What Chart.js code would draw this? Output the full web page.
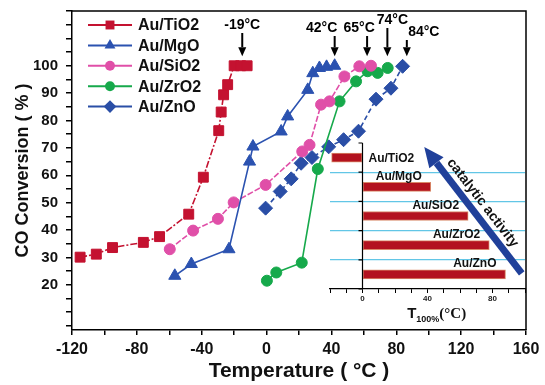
<!DOCTYPE html>
<html>
<head>
<meta charset="utf-8">
<script src="https://cdn.jsdelivr.net/npm/chart.js@4.4.1/dist/chart.umd.min.js"></script>
<style>
  html, body { margin: 0; padding: 0; background: #fff; }
  #wrap { position: relative; width: 545px; height: 385px; }
  #wrap canvas { position: absolute; left: 0; top: 0; }
</style>
</head>
<body>
<div id="wrap">
  <canvas id="mainChart" width="545" height="385"></canvas>
  <canvas id="insetChart" width="545" height="385"></canvas>
</div>
<script>
// CO conversion (%) against temperature (degC), one pair of arrays per catalyst
const tiO2Temp = [-115, -105, -95, -76, -66, -48, -39, -29.5, -28, -26.5, -24, -20, -16, -12];
const tiO2Conv = [30.1, 31.2, 33.6, 35.5, 37.6, 45.8, 59.3, 76.3, 83.1, 89.4, 93.1, 100, 100, 100];

const mgoTemp = [-56.6, -46.4, -23.2, -10.5, -8.4, 9, 13, 25.4, 28.5, 32.6, 37, 42];
const mgoConv = [23.3, 27.6, 33, 65, 70.5, 76, 81.5, 91.2, 97.3, 99.2, 99.6, 100];

const sio2Temp = [-59.7, -45.3, -30, -20.3, -0.6, 22, 26.5, 33.6, 38.8, 48, 57.2, 64.4];
const sio2Conv = [33, 39.8, 44.1, 50.1, 56.5, 68.7, 71.1, 85.8, 87, 96.1, 99.8, 100];

const zro2Temp = [0.2, 6, 21.7, 31.6, 45, 55.2, 62.3, 68.5, 74.7];
const zro2Conv = [21.5, 24.5, 28.1, 62.3, 87, 94.3, 98, 97.4, 99.2];

const znoTemp = [-0.6, 8.4, 15.2, 21.3, 28, 38.3, 47.5, 56.7, 67.5, 76.7, 83.9];
const znoConv = [48, 54.1, 58.7, 64.4, 66.5, 70.4, 73, 76.1, 87.8, 91.8, 99.8];

// T100% labels and where their arrows point
const arrowLabels = ["-19°C", "42°C", "65°C", "74°C", "84°C"];
const arrowTemps = [-15, 42, 62, 74.5, 86.5];

// inset: temperature of full conversion
const insetCats = ["Au/TiO2", "Au/MgO", "Au/SiO2", "Au/ZrO2", "Au/ZnO"];
const insetT100 = [-19, 42, 65, 78, 88];

const FONT = '"Liberation Sans", Arial, sans-serif';

const styles = [
  { label: "Au/TiO2", color: "#c41230", shape: "rect", r: 7, dash: [7, 2, 2, 2] },
  { label: "Au/MgO", color: "#2b52b0", shape: "triangle", r: 7, dash: [] },
  { label: "Au/SiO2", color: "#e04fa8", shape: "circle", r: 5.5, dash: [6, 2] },
  { label: "Au/ZrO2", color: "#16a94b", shape: "circle", r: 5.5, dash: [] },
  { label: "Au/ZnO", color: "#2a4ea6", shape: "rectRot", r: 7, dash: [5, 3] },
];
const temps = [tiO2Temp, mgoTemp, sio2Temp, zro2Temp, znoTemp];
const convs = [tiO2Conv, mgoConv, sio2Conv, zro2Conv, znoConv];

const datasets = styles.map((s, i) => ({
  label: s.label,
  data: temps[i].map((t, k) => ({ x: t, y: convs[i][k] })),
  showLine: true,
  borderColor: s.color,
  backgroundColor: s.color,
  borderWidth: 1.6,
  borderDash: s.dash,
  pointStyle: s.shape,
  pointRadius: s.r,
  pointBackgroundColor: s.color,
  pointBorderColor: s.color,
  pointBorderWidth: 1,
}));

function drawMarker(ctx, shape, x, y, r) {
  ctx.beginPath();
  if (shape === "rect") {
    const h = r * Math.SQRT1_2;
    ctx.rect(x - h, y - h, 2 * h, 2 * h);
  } else if (shape === "triangle") {
    for (let k = 0; k < 3; k++) {
      const a = k * 2 * Math.PI / 3;
      const px = x + Math.sin(a) * r, py = y - Math.cos(a) * r;
      if (k === 0) ctx.moveTo(px, py); else ctx.lineTo(px, py);
    }
    ctx.closePath();
  } else if (shape === "rectRot") {
    ctx.moveTo(x - r, y); ctx.lineTo(x, y - r); ctx.lineTo(x + r, y); ctx.lineTo(x, y + r);
    ctx.closePath();
  } else {
    ctx.arc(x, y, r, 0, Math.PI * 2);
  }
  ctx.fill();
}

function drawArrow(ctx, x1, y1, x2, y2, width, headLen, headW) {
  const a = Math.atan2(y2 - y1, x2 - x1);
  const bx = x2 - Math.cos(a) * headLen, by = y2 - Math.sin(a) * headLen;
  ctx.lineWidth = width;
  ctx.beginPath();
  ctx.moveTo(x1, y1);
  ctx.lineTo(bx, by);
  ctx.stroke();
  ctx.beginPath();
  ctx.moveTo(x2, y2);
  ctx.lineTo(bx + Math.sin(a) * headW / 2, by - Math.cos(a) * headW / 2);
  ctx.lineTo(bx - Math.sin(a) * headW / 2, by + Math.cos(a) * headW / 2);
  ctx.closePath();
  ctx.fill();
}

// box round the plot
const framePlugin = {
  id: "frame",
  beforeDatasetsDraw(chart) {
    const { ctx, chartArea: a } = chart;
    ctx.save();
    ctx.strokeStyle = "#000";
    ctx.lineWidth = 1.5;
    ctx.beginPath();
    ctx.moveTo(a.left, a.top);
    ctx.lineTo(a.right, a.top);
    ctx.lineTo(a.right, a.bottom);
    ctx.stroke();
    ctx.restore();
  },
};

const legendPlugin = {
  id: "customLegend",
  afterDraw(chart) {
    const ctx = chart.ctx;
    ctx.save();
    styles.forEach((s, i) => {
      const y = 25 + i * 20.4;
      ctx.strokeStyle = s.color;
      ctx.fillStyle = s.color;
      ctx.lineWidth = 2;
      ctx.beginPath();
      ctx.moveTo(88, y);
      ctx.lineTo(132, y);
      ctx.stroke();
      drawMarker(ctx, s.shape, 110, y, s.r * 0.9);
      ctx.fillStyle = "#111";
      ctx.font = "bold 16px " + FONT;
      ctx.textBaseline = "middle";
      ctx.fillText(s.label, 138, y + 1);
    });
    ctx.restore();
  },
};

const labelY = [25, 28, 28, 20, 32];
const labelDx = [0, -13, -8, 5, 17];
const tempArrowPlugin = {
  id: "tempArrows",
  afterDatasetsDraw(chart) {
    const { ctx, scales: { x, y } } = chart;
    ctx.save();
    ctx.fillStyle = "#000";
    ctx.strokeStyle = "#000";
    arrowTemps.forEach((t, i) => {
      const px = x.getPixelForValue(t);
      const tip = y.getPixelForValue(103.5);
      drawArrow(ctx, px, labelY[i] + 8, px, tip, 2, 9, 8);
      ctx.font = "bold 14px " + FONT;
      ctx.textAlign = "center";
      ctx.textBaseline = "middle";
      ctx.fillText(arrowLabels[i], px + labelDx[i], labelY[i]);
    });
    ctx.restore();
  },
};

new Chart(document.getElementById("mainChart"), {
  type: "scatter",
  data: { datasets },
  plugins: [framePlugin, tempArrowPlugin, legendPlugin],
  options: {
    responsive: false,
    animation: false,
    layout: { padding: { top: 11, right: 19, left: 0, bottom: 0 } },
    plugins: { legend: { display: false }, tooltip: { enabled: false } },
    scales: {
      x: {
        type: "linear",
        min: -120,
        max: 160,
        ticks: {
          stepSize: 20,
          autoSkip: false,
          maxRotation: 0,
          padding: 5,
          color: "#111",
          font: { family: FONT, size: 16, weight: "bold" },
          callback: (v) => (v % 40 === 0 ? v : ""),
        },
        grid: { drawOnChartArea: false, tickLength: 5, color: "#000", lineWidth: 1.5 },
        border: { color: "#000", width: 1.5 },
        title: {
          display: true,
          text: "Temperature ( °C )",
          color: "#111",
          font: { family: FONT, size: 21, weight: "bold" },
          padding: { top: 0, bottom: 1 },
        },
        afterFit: (s) => { s.height = 55; },
      },
      y: {
        type: "linear",
        min: 3.5,
        max: 120,
        afterBuildTicks: (s) => {
          const t = [];
          for (let v = 5; v <= 120; v += 5) t.push({ value: v });
          s.ticks = t;
        },
        ticks: {
          autoSkip: false,
          padding: 8,
          color: "#111",
          font: { family: FONT, size: 15, weight: "bold" },
          callback: (v) => (v >= 20 && v <= 100 && v % 10 === 0 ? v : ""),
        },
        grid: { drawOnChartArea: false, tickLength: 6, color: "#000", lineWidth: 1.5 },
        border: { color: "#000", width: 1.5 },
        title: {
          display: true,
          text: "CO Conversion ( % )",
          color: "#111",
          font: { family: FONT, size: 18, weight: "bold" },
          padding: { top: 12, bottom: 0 },
        },
        afterFit: (s) => {
          s.width = 72;
          s.paddingTop = 0;
          s.paddingBottom = 0;
        },
      },
    },
  },
});

// ---- inset ----
const insetDecor = {
  id: "insetDecor",
  afterDatasetsDraw(chart) {
    const { ctx, chartArea: a, scales: { x, y } } = chart;
    const x0 = x.getPixelForValue(0);
    ctx.save();
    // vertical axis at 0
    ctx.strokeStyle = "#000";
    ctx.lineWidth = 1.2;
    ctx.beginPath();
    ctx.moveTo(x0, a.top);
    ctx.lineTo(x0, a.bottom);
    const step = (a.bottom - a.top) / insetCats.length;
    for (let k = 0; k <= insetCats.length; k++) {
      ctx.moveTo(x0 - 4, a.top + k * step);
      ctx.lineTo(x0, a.top + k * step);
    }
    ctx.stroke();

    // bar labels
    ctx.fillStyle = "#111";
    ctx.font = "bold 12px " + FONT;
    ctx.textBaseline = "alphabetic";
    insetCats.forEach((c, i) => {
      const yc = y.getPixelForValue(i);
      const xe = x.getPixelForValue(insetT100[i]);
      if (insetT100[i] < 0) {
        ctx.textAlign = "left";
        ctx.fillText(c, x0 + 6, yc + 4);
      } else {
        ctx.textAlign = "right";
        ctx.fillText(c, xe - 9, yc - 7);
      }
    });

    // catalytic activity arrow
    const tailX = x.getPixelForValue(98), tailY = y.getPixelForValue(4) - 1;
    const tipX = x.getPixelForValue(38), tipY = a.top + 4;
    ctx.strokeStyle = "#20409a";
    ctx.fillStyle = "#20409a";
    drawArrow(ctx, tailX, tailY, tipX, tipY, 7, 20, 18);
    const ang = Math.atan2(tailY - tipY, tailX - tipX);
    const mx = (tailX + tipX) / 2 + Math.sin(ang) * 12;
    const my = (tailY + tipY) / 2 - Math.cos(ang) * 12;
    ctx.translate(mx, my);
    ctx.rotate(ang);
    ctx.fillStyle = "#111";
    ctx.font = "bold 14px " + FONT;
    ctx.textAlign = "center";
    ctx.textBaseline = "middle";
    ctx.fillText("catalytic activity", 0, 0);
    ctx.setTransform(1, 0, 0, 1, 0, 0);

    // axis title T100%(°C)
    let tx = x.getPixelForValue(27.5);
    const ty = a.bottom + 29;
    ctx.textAlign = "left";
    ctx.textBaseline = "alphabetic";
    ctx.font = "bold 15px " + FONT;
    ctx.fillText("T", tx, ty);
    tx += ctx.measureText("T").width;
    ctx.font = "bold 9px " + FONT;
    ctx.fillText("100%", tx, ty + 4);
    tx += ctx.measureText("100%").width;
    ctx.font = "bold 15px 'Liberation Serif', 'Times New Roman', serif";
    ctx.fillText("(°C)", tx, ty);
    ctx.restore();
  },
};

new Chart(document.getElementById("insetChart"), {
  type: "bar",
  data: {
    labels: insetCats,
    datasets: [{
      data: insetT100,
      backgroundColor: "#b3121f",
      borderColor: "#d98a6a",
      borderWidth: 1,
      borderSkipped: false,
      barThickness: 9,
    }],
  },
  plugins: [insetDecor],
  options: {
    indexAxis: "y",
    responsive: false,
    animation: false,
    layout: { padding: { left: 330, right: 20, top: 143, bottom: 66 } },
    plugins: { legend: { display: false }, tooltip: { enabled: false } },
    scales: {
      x: {
        type: "linear",
        min: -20,
        max: 100,
        ticks: {
          stepSize: 10,
          autoSkip: false,
          maxRotation: 0,
          padding: 1,
          color: "#222",
          font: { family: FONT, size: 8, weight: "bold" },
          callback: (v) => (v === 0 || v === 40 || v === 80 ? v : ""),
        },
        grid: { drawOnChartArea: false, tickLength: 4, color: "#000", lineWidth: 1 },
        border: { color: "#000", width: 1.2 },
        afterFit: (s) => { s.height = 30; },
      },
      y: {
        type: "category",
        ticks: { display: false },
        border: { display: false },
        grid: {
          offset: true,
          drawTicks: false,
          lineWidth: 1.3,
          color: (c) => (c.index > 0 && c.index < insetCats.length ? "#62c6e6" : "rgba(0,0,0,0)"),
        },
        afterFit: (s) => { s.width = 0; },
      },
    },
  },
});
</script>
</body>
</html>
